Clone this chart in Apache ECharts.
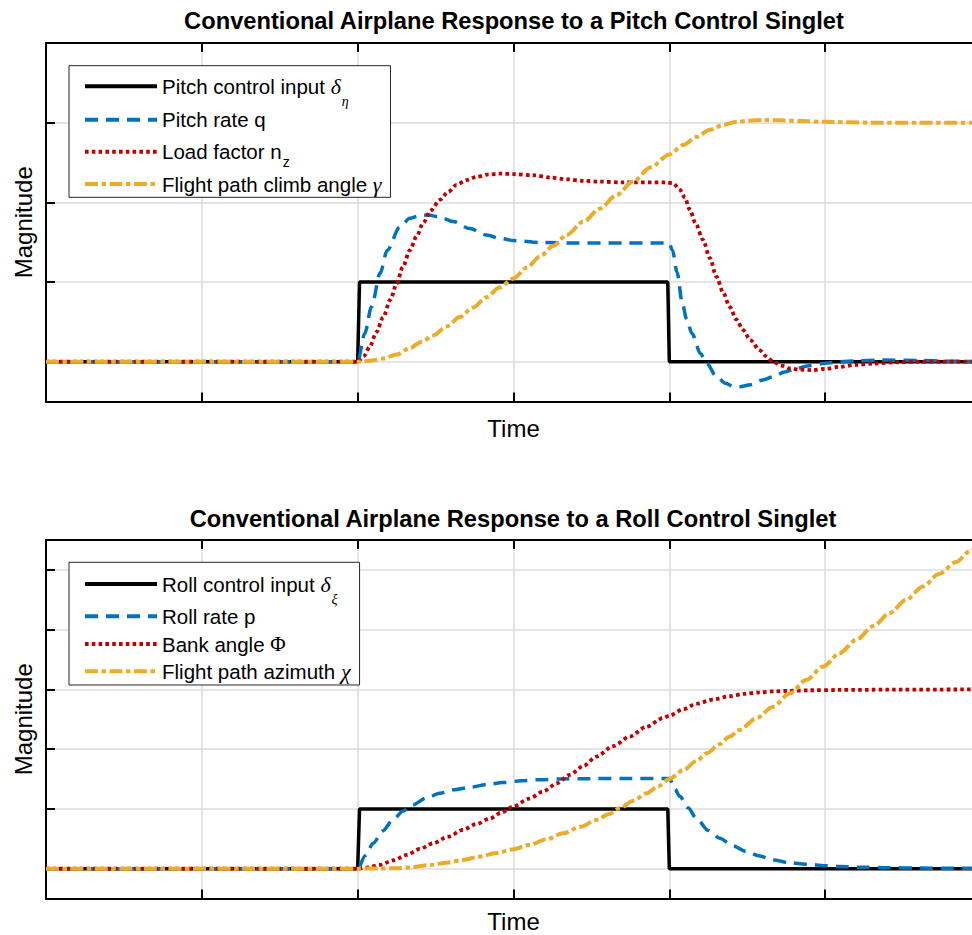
<!DOCTYPE html>
<html><head><meta charset="utf-8">
<script src="https://cdn.jsdelivr.net/npm/echarts@6/dist/echarts.min.js"></script>
<style>html,body{margin:0;padding:0;background:#fff}#c{width:972px;height:935px}</style>
</head><body><div id="c"></div>
<script>
// ---------- data ----------
const titles = ['Conventional Airplane Response to a Pitch Control Singlet',
                'Conventional Airplane Response to a Roll Control Singlet'];
const xName = 'Time';
const yName = 'Magnitude';
const timeRange = [0, 6];
const pitchYRange = [-0.5, 4];
const rollYRange = [-0.5, 5.5];
const pitchYTicks = [0, 1, 2, 3, 4];
const rollYTicks = [0, 1, 2, 3, 4, 5];

const pitchNames = ['Pitch control input', 'Pitch rate q', 'Load factor n_z', 'Flight path climb angle'];
const rollNames = ['Roll control input', 'Roll rate p', 'Bank angle', 'Flight path azimuth'];

const pitchInput = [[0,0],[2,0],[2.012,1],[3.99,1],[4.0,0],[6,0]];
const pitchRate = [[0,0],[2,0],[2.045,0.35],[2.089,0.69],[2.144,1.11],[2.19,1.40],[2.27,1.69],[2.335,1.80],[2.40,1.835],
  [2.452,1.84],[2.52,1.82],[2.613,1.76],[2.72,1.67],[2.827,1.59],[2.92,1.545],[3.0,1.52],[3.17,1.495],[3.4,1.49],
  [3.7,1.49],[3.98,1.49],[4.0,1.48],[4.02,1.40],[4.05,1.12],[4.082,0.75],[4.11,0.54],[4.146,0.35],[4.2,0.10],
  [4.24,-0.02],[4.30,-0.18],[4.36,-0.27],[4.41,-0.31],[4.452,-0.316],[4.52,-0.29],[4.60,-0.23],[4.665,-0.19],
  [4.74,-0.13],[4.815,-0.085],[4.9,-0.05],[5.0,-0.02],[5.1,0],[5.2,0.01],[5.35,0.02],[5.6,0.015],[5.8,0.005],[6,0]];
const loadFactor = [[0,0],[2,0],[2.04,0.07],[2.078,0.19],[2.12,0.37],[2.164,0.56],[2.21,0.78],[2.25,0.98],[2.29,1.19],
  [2.335,1.40],[2.38,1.58],[2.42,1.74],[2.47,1.90],[2.527,2.03],[2.58,2.13],[2.634,2.22],[2.70,2.28],[2.763,2.32],
  [2.84,2.35],[2.912,2.36],[3.0,2.355],[3.126,2.34],[3.24,2.31],[3.34,2.29],[3.45,2.27],[3.553,2.26],[3.7,2.25],
  [3.98,2.25],[4.024,2.24],[4.067,2.16],[4.10,2.06],[4.13,1.91],[4.17,1.73],[4.216,1.53],[4.26,1.30],[4.302,1.07],
  [4.345,0.87],[4.387,0.69],[4.43,0.53],[4.473,0.40],[4.52,0.27],[4.58,0.145],[4.62,0.07],[4.665,0.0],[4.72,-0.05],
  [4.77,-0.085],[4.84,-0.10],[4.92,-0.107],[5.0,-0.09],[5.09,-0.065],[5.2,-0.04],[5.31,-0.023],[5.45,-0.008],[5.6,0],[6,0]];
const climbAngle = [[0,0],[2,0],[2.08,0.01],[2.164,0.04],[2.25,0.09],[2.335,0.17],[2.41,0.25],[2.485,0.33],[2.57,0.44],
  [2.656,0.56],[2.74,0.68],[2.827,0.81],[2.91,0.93],[3.0,1.045],[3.085,1.18],[3.17,1.32],[3.255,1.455],[3.34,1.59],
  [3.45,1.76],[3.553,1.92],[3.66,2.09],[3.767,2.26],[3.88,2.44],[4.0,2.60],[4.09,2.72],[4.174,2.82],[4.26,2.91],
  [4.345,2.97],[4.43,3.01],[4.516,3.025],[4.61,3.035],[4.71,3.03],[4.85,3.02],[5.0,3.01],[5.3,3.0],[5.6,3.0],[6,3.0]];

const rollInput = [[0,0],[2,0],[2.012,1],[3.99,1],[4.0,0],[6,0]];
const rollRate = [[0,0],[2,0],[2.05,0.22],[2.1,0.425],[2.16,0.63],[2.228,0.82],[2.29,0.96],[2.356,1.07],[2.44,1.18],
  [2.527,1.26],[2.62,1.32],[2.72,1.36],[2.83,1.41],[2.933,1.44],[3.05,1.47],[3.147,1.486],[3.3,1.50],[3.425,1.505],
  [3.7,1.51],[3.99,1.51],[4.0,1.51],[4.035,1.33],[4.067,1.21],[4.12,1.02],[4.174,0.84],[4.25,0.64],[4.323,0.51],
  [4.41,0.38],[4.494,0.285],[4.58,0.21],[4.665,0.146],[4.77,0.10],[4.88,0.073],[5.0,0.05],[5.09,0.034],[5.25,0.022],
  [5.414,0.015],[5.6,0.01],[5.8,0.006],[6,0.004]];
const bankAngle = [[0,0],[2,0],[2.07,0.02],[2.142,0.062],[2.23,0.14],[2.314,0.23],[2.4,0.33],[2.485,0.425],[2.58,0.535],
  [2.677,0.65],[2.76,0.745],[2.849,0.84],[2.92,0.935],[2.998,1.04],[3.1,1.17],[3.19,1.29],[3.28,1.43],[3.36,1.57],
  [3.45,1.72],[3.532,1.876],[3.64,2.05],[3.746,2.21],[3.85,2.37],[3.96,2.52],[4.0,2.56],[4.09,2.67],[4.174,2.76],
  [4.28,2.83],[4.387,2.885],[4.48,2.925],[4.58,2.95],[4.68,2.967],[4.77,2.976],[4.9,2.985],[5.09,2.99],[5.4,2.995],[6,3.0]];
const azimuth = [[0,0],[2,0],[2.25,0.005],[2.35,0.025],[2.463,0.06],[2.57,0.10],[2.677,0.146],[2.78,0.20],[2.89,0.26],
  [3.0,0.325],[3.105,0.40],[3.21,0.49],[3.318,0.59],[3.43,0.70],[3.532,0.816],[3.61,0.91],[3.68,1.01],[3.77,1.135],
  [3.853,1.26],[3.93,1.38],[4.0,1.50],[4.09,1.65],[4.174,1.80],[4.24,1.93],[4.32,2.08],[4.387,2.21],[4.45,2.32],
  [4.56,2.52],[4.665,2.71],[4.77,2.925],[4.88,3.16],[4.986,3.38],[5.09,3.60],[5.2,3.83],[5.31,4.06],[5.414,4.28],
  [5.52,4.50],[5.627,4.72],[5.73,4.93],[5.84,5.13],[5.927,5.31],[6,5.46]];

// ---------- styling ----------
const SANS = '"Liberation Sans", Arial, sans-serif';
const SERIF = '"Liberation Serif", "DejaVu Serif", serif';
const BLACK = '#000000', BLUE = '#0072BD', RED = '#C00000', ORANGE = '#EBAC2A';
const GRIDC = '#dcdcdc';

const legendLabels = {
  'Pitch control input': '{t|Pitch control input }{g|\u03b4}{s|\u03b7}',
  'Pitch rate q': '{t|Pitch rate q}',
  'Load factor n_z': '{t|Load factor n}{z|z}',
  'Flight path climb angle': '{t|Flight path climb angle }{g|\u03b3}',
  'Roll control input': '{t|Roll control input }{g|\u03b4}{s|\u03be}',
  'Roll rate p': '{t|Roll rate p}',
  'Bank angle': '{t|Bank angle }{u|\u03a6}',
  'Flight path azimuth': '{t|Flight path azimuth }{g|\u03c7}'
};
const rich = {
  t: {fontFamily: SANS, fontSize: 20.5, lineHeight: 24, color: '#000'},
  g: {fontFamily: SERIF, fontStyle: 'italic', fontSize: 22, lineHeight: 24, color: '#000'},
  u: {fontFamily: SERIF, fontSize: 21, lineHeight: 24, color: '#000'},
  s: {fontFamily: SERIF, fontStyle: 'italic', fontSize: 14, lineHeight: 10, padding: [15, 0, -15, 1], color: '#000'},
  z: {fontFamily: SANS, fontSize: 14, lineHeight: 10, padding: [10, 0, -10, 1], color: '#000'}
};

const gridBoxes = [{left: 46, top: 43, width: 935, height: 358.5},
                   {left: 46, top: 540, width: 935, height: 358.5}];
const yRanges = [pitchYRange, rollYRange];
const yTicks = [pitchYTicks, rollYTicks];
const xNameGaps = [17.5, 13.5];

const axisLine = {onZero: false, lineStyle: {color: '#000', width: 2}};
const axisTick = {inside: true, length: 9, lineStyle: {color: '#000', width: 2}};
const nameStyle = {fontFamily: SANS, fontSize: 24, color: '#000'};

const xAxes = [], yAxes = [];
[0, 1].forEach(function (g) {
  xAxes.push({type: 'value', gridIndex: g, position: 'bottom', min: timeRange[0], max: timeRange[1], interval: 1,
    axisLine: axisLine, axisTick: axisTick, axisLabel: {show: false},
    splitLine: {show: true, lineStyle: {color: GRIDC, width: 1.5}},
    name: xName, nameLocation: 'middle', nameGap: xNameGaps[g],
    nameTextStyle: Object.assign({lineHeight: 18}, nameStyle)});
  xAxes.push({type: 'value', gridIndex: g, position: 'top', min: timeRange[0], max: timeRange[1], interval: 1,
    axisLine: axisLine, axisTick: axisTick, axisLabel: {show: false}, splitLine: {show: false}});
  yAxes.push({type: 'value', gridIndex: g, position: 'left', min: yRanges[g][0], max: yRanges[g][1],
    axisLine: axisLine, axisTick: Object.assign({customValues: yTicks[g]}, axisTick),
    axisLabel: {show: false, customValues: yTicks[g]},
    splitLine: {show: true, lineStyle: {color: GRIDC, width: 1.5}},
    name: yName, nameLocation: 'middle', nameGap: 11, nameTextStyle: nameStyle});
  yAxes.push({type: 'value', gridIndex: g, position: 'right', min: yRanges[g][0], max: yRanges[g][1],
    axisLine: axisLine, axisTick: Object.assign({customValues: yTicks[g]}, axisTick),
    axisLabel: {show: false, customValues: yTicks[g]}, splitLine: {show: false}});
});

function mk(name, data, g, color, width, type) {
  return {type: 'line', name: name, data: data, xAxisIndex: g * 2, yAxisIndex: g * 2,
    symbol: 'none', showSymbol: false, smooth: type === 'solid' ? false : 0.3, smoothMonotone: 'x',
    lineStyle: {color: color, width: width, type: type, cap: 'butt'}, itemStyle: {color: color},
    silent: true, animation: false};
}
const DASH = [13, 8], DOT = [3.6, 3.2], DASHDOT = [13, 3.5, 4.5, 3.5];

const series = [
  mk(pitchNames[0], pitchInput, 0, BLACK, 3.5, 'solid'),
  mk(pitchNames[1], pitchRate, 0, BLUE, 3.5, DASH),
  mk(pitchNames[2], loadFactor, 0, RED, 3.8, DOT),
  mk(pitchNames[3], climbAngle, 0, ORANGE, 4, DASHDOT),
  mk(rollNames[0], rollInput, 1, BLACK, 3.5, 'solid'),
  mk(rollNames[1], rollRate, 1, BLUE, 3.5, DASH),
  mk(rollNames[2], bankAngle, 1, RED, 3.8, DOT),
  mk(rollNames[3], azimuth, 1, ORANGE, 4, DASHDOT)
];

// legend layout: one legend component per row, the last one also draws the frame
const ITEM_H = 30, ROW_DY = 2;
const legendFrames = [{left: 69, top: 65.7, bottom: 203.3, rows: [87.3, 120.7, 152.7, 185]},
                      {left: 69, top: 562.3, bottom: 691, rows: [585, 617.3, 645, 672.3]}];
function legendBase(name) {
  return {data: [name], orient: 'vertical', itemWidth: 72, itemHeight: ITEM_H, itemGap: 0,
    selectedMode: false, itemStyle: {opacity: 0, borderWidth: 0}, lineStyle: {width: 4},
    formatter: function (n) { return legendLabels[n]; },
    textStyle: {fontFamily: SANS, fontSize: 20.5, color: '#000', rich: rich}};
}
const legends = [];
[pitchNames, rollNames].forEach(function (names, g) {
  const f = legendFrames[g];
  names.forEach(function (n, i) {
    const L = legendBase(n);
    const c = f.rows[i] + ROW_DY;
    if (i === names.length - 1) {
      Object.assign(L, {left: f.left, top: f.top,
        padding: [c - ITEM_H / 2 - f.top, 9, Math.max(0, f.bottom - c - ITEM_H / 2), 14],
        backgroundColor: '#fff', borderColor: '#262626', borderWidth: 1, borderRadius: 0, z: 4});
    } else {
      Object.assign(L, {left: f.left + 14, top: c - ITEM_H / 2, padding: 0, z: 5});
    }
    legends.push(L);
  });
});

const option = {
  backgroundColor: '#fff',
  animation: false,
  title: [
    {text: titles[0], left: 509, top: 4, textAlign: 'center',
     textStyle: {fontFamily: SANS, fontSize: 23.7, fontWeight: 'bold', color: '#000'}},
    {text: titles[1], left: 508, top: 502, textAlign: 'center',
     textStyle: {fontFamily: SANS, fontSize: 23.7, fontWeight: 'bold', color: '#000'}}
  ],
  legend: legends,
  grid: gridBoxes.map(function (b) { return Object.assign({containLabel: false, outerBoundsMode: 'none'}, b); }),
  xAxis: xAxes,
  yAxis: yAxes,
  series: series
};
const chart = echarts.init(document.getElementById('c'), null, {renderer: 'svg'});
chart.setOption(option);
</script>
</body></html>
